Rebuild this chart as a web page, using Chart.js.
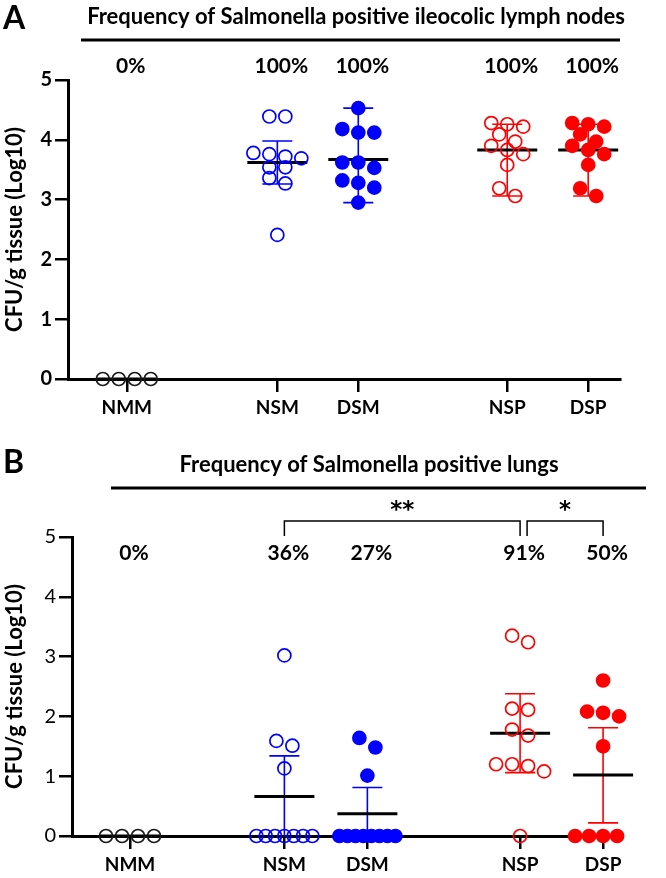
<!DOCTYPE html>
<html>
<head>
<meta charset="utf-8">
<script src="https://cdn.jsdelivr.net/npm/chart.js@4.4.1/dist/chart.umd.min.js"></script>
<style>
  html, body { margin: 0; padding: 0; background: #fff; }
  .panel { position: absolute; left: 0; width: 666px; height: 439px; }
  #panelA { top: 0; }
  #panelB { top: 439px; }
</style>
</head>
<body>
<div class="panel" id="panelA"><canvas id="chartA"></canvas></div>
<div class="panel" id="panelB"><canvas id="chartB"></canvas></div>
<script>
var groups = ['NMM', 'NSM', 'DSM', 'NSP', 'DSP'];
var groupPos = [0, 1.86, 2.86, 4.7, 5.7];
var yTicks = [0, 1, 2, 3, 4, 5];
var colors = ['#1a1a1a', '#0000ff', '#0000ff', '#ff0000', '#ff0000'];
var filled = [false, false, true, false, true];

// A: ileocolic lymph nodes, log10 CFU/g
var lnNMM = [0, 0, 0, 0];
var lnNSM = [4.39, 4.39, 3.78, 3.76, 3.72, 3.69, 3.54, 3.54, 3.36, 3.27, 2.41];
var lnDSM = [4.53, 4.18, 4.12, 4.12, 3.62, 3.62, 3.53, 3.32, 3.28, 3.20, 2.95];
var lnNSP = [4.28, 4.26, 4.22, 4.09, 3.97, 3.90, 3.83, 3.76, 3.58, 3.19, 3.06];
var lnDSP = [4.28, 4.26, 4.22, 4.09, 3.97, 3.90, 3.83, 3.76, 3.58, 3.19, 3.06];
var lnMean = [0, 3.62, 3.67, 3.83, 3.83];
var lnErrLow = [0, 3.26, 2.95, 3.06, 3.06];
var lnErrHigh = [0, 3.98, 4.53, 4.26, 4.26];
var lnPct = ['0%', '100%', '100%', '100%', '100%'];

// B: lungs, log10 CFU/g
var luNMM = [0, 0, 0, 0];
var luNSM = [3.02, 1.59, 1.51, 1.13, 0, 0, 0, 0, 0, 0, 0];
var luDSM = [1.64, 1.48, 1.01, 0, 0, 0, 0, 0, 0, 0, 0];
var luNSP = [3.35, 3.24, 2.13, 2.11, 1.78, 1.68, 1.20, 1.20, 1.17, 1.08, 0];
var luDSP = [2.60, 2.08, 2.06, 2.00, 1.50, 0, 0, 0, 0, 0];
var luMean = [0, 0.66, 0.37, 1.72, 1.02];
var luErrLow = [0, 0, 0, 1.06, 0.22];
var luErrHigh = [0, 1.34, 0.81, 2.38, 1.81];
var luPct = ['0%', '36%', '27%', '91%', '50%'];
var luComparisons = [{from: 1, to: 3, label: '**'}, {from: 3, to: 4, label: '*'}];

var FONT = 'Lato, "Noto Sans", sans-serif';

// binned dot plot: values close together share a row and are spread sideways
function swarm(values, center, pxPerUnit) {
    var binH = 0.18, step = 16 / pxPerUnit, maxW = 56 / pxPerUnit;
    var sorted = values.slice().sort(function (a, b) { return b - a; });
    var out = [], i = 0;
    while (i < sorted.length) {
        var j = i + 1;
        while (j < sorted.length && sorted[i] - sorted[j] < binH) j++;
        var n = j - i;
        var s = n > 1 ? Math.min(step, maxW / (n - 1)) : 0;
        for (var k = 0; k < n; k++) {
            out.push({x: center + (k - (n - 1) / 2) * s, y: sorted[i + k]});
        }
        i = j;
    }
    return out;
}

var groupMarks = {
    id: 'groupMarks',
    beforeDatasetsDraw: function (chart, args, opts) {
        var ctx = chart.ctx, xs = chart.scales.x, ys = chart.scales.y;
        ctx.save();
        groupPos.forEach(function (p, i) {
            var cx = xs.getPixelForValue(p);
            var yl = ys.getPixelForValue(opts.low[i]);
            var yh = ys.getPixelForValue(opts.high[i]);
            if (yl - yh > 1) {
                ctx.strokeStyle = colors[i];
                ctx.lineWidth = 1.6;
                ctx.beginPath();
                ctx.moveTo(cx, yl); ctx.lineTo(cx, yh);
                ctx.moveTo(cx - 15, yh); ctx.lineTo(cx + 15, yh);
                if (opts.low[i] > 0) { ctx.moveTo(cx - 15, yl); ctx.lineTo(cx + 15, yl); }
                ctx.stroke();
            }
            var ym = ys.getPixelForValue(opts.mean[i]);
            ctx.strokeStyle = '#000';
            ctx.lineWidth = 3;
            ctx.beginPath();
            ctx.moveTo(cx - 30, ym); ctx.lineTo(cx + 30, ym);
            ctx.stroke();
        });
        ctx.restore();
    }
};

var panelText = {
    id: 'panelText',
    afterDraw: function (chart, args, o) {
        var ctx = chart.ctx, xs = chart.scales.x;
        ctx.save();
        ctx.fillStyle = '#000';
        ctx.textBaseline = 'middle';
        ctx.textAlign = 'left';
        ctx.font = 'bold 32px ' + FONT;
        ctx.fillText(o.letter, 3, o.letterY);
        ctx.textAlign = 'center';
        ctx.font = 'bold 22px ' + FONT;
        ctx.fillText(o.title, o.titleX, o.titleY);
        ctx.strokeStyle = '#000';
        ctx.lineWidth = 3;
        ctx.beginPath();
        ctx.moveTo(o.lineX[0], o.lineY); ctx.lineTo(o.lineX[1], o.lineY);
        ctx.stroke();
        ctx.font = 'bold 21px ' + FONT;
        o.pct.forEach(function (t, i) {
            ctx.fillText(t, xs.getPixelForValue(groupPos[i]) + 4, o.pctY);
        });
        (o.comparisons || []).forEach(function (c, k) {
            var x1 = xs.getPixelForValue(groupPos[c.from]) + (k > 0 ? 7 : 0);
            var x2 = xs.getPixelForValue(groupPos[c.to]);
            ctx.lineWidth = 1.5;
            ctx.beginPath();
            ctx.moveTo(x1, o.bracketY + 15); ctx.lineTo(x1, o.bracketY);
            ctx.lineTo(x2, o.bracketY); ctx.lineTo(x2, o.bracketY + 15);
            ctx.stroke();
            ctx.font = 'bold 23px "DejaVu Sans", sans-serif';
            ctx.fillText(c.label, (x1 + x2) / 2, o.bracketY - 10);
        });
        ctx.restore();
    }
};

function makeChart(id, c) {
    var datasets = c.values.map(function (vals, i) {
        return {
            label: groups[i],
            data: swarm(vals, groupPos[i], c.pxPerUnit),
            pointRadius: 6.5,
            pointBorderWidth: 1.7,
            pointBorderColor: colors[i],
            pointBackgroundColor: filled[i] ? colors[i] : 'rgba(0,0,0,0)',
            showLine: false,
            clip: false
        };
    });
    return new Chart(document.getElementById(id), {
        type: 'scatter',
        data: {datasets: datasets},
        options: {
            responsive: true,
            maintainAspectRatio: false,
            animation: false,
            events: [],
            layout: {padding: c.padding},
            plugins: {
                legend: {display: false},
                tooltip: {enabled: false},
                groupMarks: {mean: c.mean, low: c.low, high: c.high},
                panelText: c.text
            },
            scales: {
                x: {
                    type: 'linear',
                    min: c.xMin,
                    max: c.xMax,
                    afterBuildTicks: function (s) { s.ticks = groupPos.map(function (v) { return {value: v}; }); },
                    afterFit: function (s) { s.height = 42; },
                    ticks: {
                        callback: function (v, i) { return groups[i]; },
                        font: {family: FONT, size: 19, weight: 'bold'},
                        color: '#000', padding: 4, maxRotation: 0, autoSkip: false
                    },
                    grid: {drawOnChartArea: false, tickLength: 13, lineWidth: 2.5, color: '#000'},
                    border: {width: 3, color: '#000'}
                },
                y: {
                    min: 0,
                    max: 5,
                    afterBuildTicks: function (s) { s.ticks = yTicks.map(function (v) { return {value: v}; }); },
                    afterFit: function (s) { s.width = c.yWidth; },
                    title: {
                        display: true, text: 'CFU/g tissue (Log10)', color: '#000',
                        font: {family: FONT, size: 22, weight: 'bold'}, padding: {top: 2, bottom: 2}
                    },
                    ticks: {
                        font: {family: FONT, size: 20, weight: c.tickWeight},
                        color: '#000', padding: 3
                    },
                    grid: {drawOnChartArea: false, tickLength: 13, lineWidth: 2.5, color: '#000'},
                    border: {width: 3, color: '#000'}
                }
            }
        },
        plugins: [groupMarks, panelText]
    });
}

makeChart('chartA', {
    values: [lnNMM, lnNSM, lnDSM, lnNSP, lnDSP],
    mean: lnMean, low: lnErrLow, high: lnErrHigh,
    pxPerUnit: 81, xMin: -0.726, xMax: 6.093,
    yWidth: 68, tickWeight: 'bold',
    padding: {top: 80, right: 46, bottom: 18, left: 0},
    text: {
        letter: 'A', letterY: 19, title: 'Frequency of Salmonella positive ileocolic lymph nodes',
        titleX: 356, titleY: 17, lineX: [81, 620], lineY: 40, pct: lnPct, pctY: 66
    }
});

makeChart('chartB', {
    values: [luNMM, luNSM, luDSM, luNSP, luDSP],
    mean: luMean, low: luErrLow, high: luErrHigh,
    pxPerUnit: 83, xMin: -0.699, xMax: 5.928,
    yWidth: 72, tickWeight: 'normal',
    padding: {top: 98, right: 44, bottom: 0, left: 0},
    text: {
        letter: 'B', letterY: 24, title: 'Frequency of Salmonella positive lungs',
        titleX: 369, titleY: 26, lineX: [111, 646], lineY: 49, pct: luPct, pctY: 114,
        comparisons: luComparisons, bracketY: 82
    }
});
</script>
</body>
</html>
